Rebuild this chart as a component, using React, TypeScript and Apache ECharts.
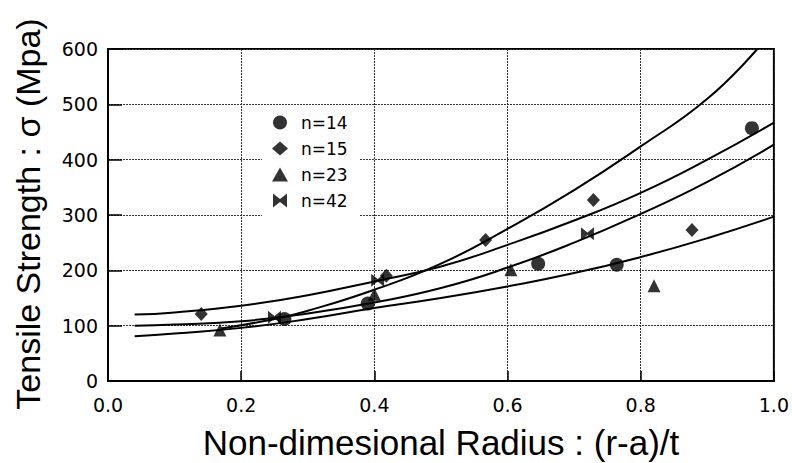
import React, { useEffect, useRef } from "react";
import * as echarts from "echarts";

// ---- data ----
const n14X = [0.265, 0.39, 0.646, 0.764, 0.967];
const n14Y = [112, 140, 212, 210, 457];
const n15X = [0.14, 0.418, 0.567, 0.729, 0.877];
const n15Y = [121, 190, 255, 327, 273];
const n23X = [0.168, 0.4, 0.605, 0.82];
const n23Y = [92, 157, 201, 172];
const n42X = [0.25, 0.405, 0.72];
const n42Y = [115, 182, 266];

// fitted curves
const curveAX = [0.04, 0.1, 0.2, 0.3, 0.4, 0.5, 0.6, 0.7, 0.8, 0.9, 1.0];
const curveAY = [120, 124, 136, 155, 180, 207, 246, 290, 340, 400, 467];
const curveBX = [0.17, 0.25, 0.3, 0.4, 0.5, 0.6, 0.7, 0.8, 0.9, 0.975];
const curveBY = [95, 112, 127, 165, 212, 275, 345, 424, 510, 600];
const curveCX = [0.04, 0.1, 0.2, 0.3, 0.4, 0.5, 0.6, 0.7, 0.8, 0.9, 1.0];
const curveCY = [100, 102, 108, 122, 142, 168, 205, 250, 302, 360, 427];
const curveDX = [0.04, 0.1, 0.2, 0.3, 0.4, 0.5, 0.6, 0.7, 0.8, 0.9, 1.0];
const curveDY = [81, 86, 96, 112, 132, 150, 171, 195, 224, 258, 297];

const seriesNames = ["n=14", "n=15", "n=23", "n=42"];
const xTicks = [0, 0.2, 0.4, 0.6, 0.8, 1.0];
const yTicks = [0, 100, 200, 300, 400, 500, 600];
const xTitle = "Non-dimesional Radius : (r-a)/t";
const yTitle = "Tensile Strength : σ (Mpa)";

const zip = (xs: number[], ys: number[]) => xs.map((x, i) => [x, ys[i]]);

const BOWTIE = "path://M0,0 L5,4 L10,0 L10,10 L5,6 L0,10 Z";

export default function App() {
  const ref = useRef<HTMLDivElement>(null);
  useEffect(() => {
    if (!ref.current) return;
    const chart = echarts.init(ref.current, undefined, { renderer: "svg" });
    const font = "Liberation Sans, Arial, Helvetica, sans-serif";
    const tickFont = "DejaVu Sans, Liberation Sans, sans-serif";
    const curve = (xs: number[], ys: number[]) => ({
      type: "line",
      data: zip(xs, ys),
      smooth: true,
      showSymbol: false,
      symbol: "none",
      silent: true,
      lineStyle: { color: "#000", width: 2 },
      z: 2,
    });
    const scatter = (name: string, xs: number[], ys: number[], symbol: string, size: number | number[]) => ({
      type: "scatter",
      name,
      data: zip(xs, ys),
      symbol,
      symbolSize: size,
      itemStyle: { color: "#000" },
      z: 3,
    });
    chart.setOption({
      animation: false,
      backgroundColor: "#fff",
      textStyle: { fontFamily: font },
      grid: {
        left: 108,
        right: 17,
        top: 49,
        bottom: 82,
        show: true,
        borderColor: "#000",
        borderWidth: 2,
        backgroundColor: "transparent",
      },
      xAxis: {
        type: "value",
        min: xTicks[0],
        max: xTicks[xTicks.length - 1],
        interval: 0.2,
        axisLine: { show: true, lineStyle: { color: "#000", width: 2 } },
        axisTick: { show: true, inside: true, length: 10, lineStyle: { color: "#000", width: 1.5 } },
        axisLabel: {
          color: "#000",
          fontSize: 19,
          margin: 14,
          fontFamily: tickFont,
          formatter: (v: number) => v.toFixed(1),
        },
        splitLine: { show: true, lineStyle: { color: "#333", type: [2, 1], width: 1 } },
      },
      yAxis: {
        type: "value",
        min: yTicks[0],
        max: yTicks[yTicks.length - 1],
        interval: 100,
        axisLine: { show: true, lineStyle: { color: "#000", width: 2 } },
        axisTick: { show: true, inside: true, length: 14, lineStyle: { color: "#000", width: 1.5 } },
        axisLabel: { color: "#000", fontSize: 19, margin: 10, fontFamily: tickFont },
        splitLine: { show: true, lineStyle: { color: "#333", type: [2, 1], width: 1 } },
      },
      legend: {
        data: seriesNames,
        orient: "vertical",
        left: 262,
        top: 106,
        padding: [8, 12, 8, 10],
        backgroundColor: "#fff",
        itemWidth: 16,
        itemHeight: 14,
        itemGap: 9,
        selectedMode: false,
        textStyle: {
          color: "#000",
          fontSize: 17,
          lineHeight: 16,
          fontFamily: tickFont,
          padding: [0, 0, 0, 8],
        },
        z: 4,
      },
      series: [
        curve(curveAX, curveAY),
        curve(curveBX, curveBY),
        curve(curveCX, curveCY),
        curve(curveDX, curveDY),
        scatter(seriesNames[0], n14X, n14Y, "circle", 14),
        scatter(seriesNames[1], n15X, n15Y, "diamond", [13, 14]),
        scatter(seriesNames[2], n23X, n23Y, "triangle", [13, 13]),
        scatter(seriesNames[3], n42X, n42Y, BOWTIE, [13, 13]),
      ],
      graphic: [
        {
          type: "text",
          x: 28,
          y: 214,
          rotation: Math.PI / 2,
          style: {
            text: yTitle,
            fontSize: 34,
            fontFamily: font,
            fill: "#000",
            textAlign: "center",
            textVerticalAlign: "middle",
          },
        },
        {
          type: "text",
          x: 441,
          y: 442,
          style: {
            text: xTitle,
            fontSize: 35,
            fontFamily: font,
            fill: "#000",
            textAlign: "center",
            textVerticalAlign: "middle",
          },
        },
      ],
    });
    return () => chart.dispose();
  }, []);
  return <div ref={ref} style={{ width: 792, height: 463, position: "fixed", left: 0, top: 0 }} />;
}
